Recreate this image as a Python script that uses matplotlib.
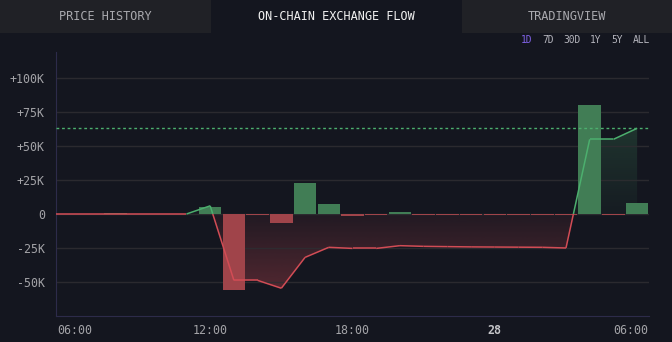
import numpy as np
import matplotlib.pyplot as plt
import matplotlib.transforms as mtransforms
from matplotlib.collections import LineCollection
from matplotlib.colors import to_rgb

# hourly net flow bars (hour of day, 24 = midnight of the 28th)
bar_hours = np.arange(6, 31)
bar_vals = [0.3, 0.3, 0.7, 0.3, 0.3, 0.3, 5.4, -55.6, -0.5, -6.5, 22.8, 7.5,
            -1.2, -0.4, 1.6, -1.0, -0.4, -0.4, -0.4, -0.4, -0.4, -1.1, 80.0, -0.5, 8.0]

# cumulative flow line
line_hours = [5.5, 6, 7, 8, 9, 10, 11, 12, 13, 14, 15, 16, 17, 18, 19, 20, 21, 22,
              23, 24, 25, 26, 27, 28, 29, 30]
line_vals = [0, 0, 0, 0, 0, 0, 0, 6.0, -48.8, -48.8, -54.6, -31.9, -24.5, -25.3,
             -25.3, -23.3, -23.8, -24.0, -24.2, -24.3, -24.4, -24.5, -25.0, 54.9, 54.9, 63.0]
current = 63.0

yticks = [-50, -25, 0, 25, 50, 75, 100]
ylabels = ['-50K', '-25K', '0', '+25K', '+50K', '+75K', '+100K']
xticks = [6, 12, 18, 24, 30]
xlabels = ['06:00', '12:00', '18:00', '28', '06:00']

tabs = ['PRICE HISTORY', 'ON-CHAIN EXCHANGE FLOW', 'TRADINGVIEW']
ranges = ['1D', '7D', '30D', '1Y', '5Y', 'ALL']

BG = '#14161f'
GREEN = '#4caf6e'
RED = '#d24c55'
MONO = 'DejaVu Sans Mono'

fig = plt.figure(figsize=(6.72, 3.42), dpi=100, facecolor=BG)
W, H = 672, 342

# tab strip
tab_edges = [0, 211, 462, 672]
for i, name in enumerate(tabs):
    active = i == 1
    fig.patches.append(plt.Rectangle((tab_edges[i] / W, 1 - 33 / H), (tab_edges[i + 1] - tab_edges[i]) / W,
                                     33 / H, transform=fig.transFigure,
                                     facecolor=BG if active else '#202126', edgecolor='none'))
    fig.text((tab_edges[i] + tab_edges[i + 1]) / 2 / W, 1 - 16.5 / H, name, ha='center', va='center',
             family=MONO, fontsize=8.6, color='#f0f0f0' if active else '#a9a9ae')

# range buttons
rx = [527, 548, 572, 596, 617, 641]
for x, r in zip(rx, ranges):
    fig.text(x / W, 1 - 40 / H, r, ha='center', va='center', family=MONO, fontsize=6.9,
             color='#8062e6' if r == '1D' else '#b4b4bc')

ax = fig.add_axes([56 / W, 26 / H, (649 - 56) / W, (316 - 52) / H])
ax.set_facecolor(BG)
ax.set_xlim(5.5, 30.5)
ax.set_ylim(-75, 119.1)

for t in yticks:
    ax.axhline(t, color='#2e2d31', lw=1, zorder=1.5, alpha=0.9)

# crossings of zero inserted so colours and fills split cleanly
xs, ys = [line_hours[0]], [line_vals[0]]
for i in range(1, len(line_hours)):
    x0, y0, x1, y1 = line_hours[i - 1], line_vals[i - 1], line_hours[i], line_vals[i]
    if y0 * y1 < 0:
        xc = x0 + (x1 - x0) * (0 - y0) / (y1 - y0)
        xs.append(xc)
        ys.append(0)
    xs.append(x1)
    ys.append(y1)
xs = np.array(xs)
ys = np.array(ys)


def grad_fill(yy, color, lo, hi, a_lo, a_hi):
    poly = ax.fill_between(xs, yy, 0, facecolor='none', edgecolor='none')
    rgba = np.zeros((256, 1, 4))
    rgba[:, 0, :3] = to_rgb(color)
    rgba[:, 0, 3] = np.linspace(a_lo, a_hi, 256)
    im = ax.imshow(rgba, extent=[xs[0], xs[-1], lo, hi], origin='lower', aspect='auto', zorder=1)
    im.set_clip_path(poly.get_paths()[0], transform=ax.transData)


grad_fill(np.clip(ys, None, 0), '#d24c55', min(ys), 0, 0.32, 0.07)
grad_fill(np.clip(ys, 0, None), '#4caf6e', 0, max(ys), 0.04, 0.2)

colors = ['#417d55' if v > 0 else '#a0444a' for v in bar_vals]
ax.bar(bar_hours, bar_vals, width=0.95, color=colors, zorder=2)

ax.axhline(current, color=GREEN, lw=1, ls=(0, (2, 2)), zorder=3)

segs = [[(xs[i], ys[i]), (xs[i + 1], ys[i + 1])] for i in range(len(xs) - 1)]
seg_col = [GREEN if (ys[i] + ys[i + 1]) > 0 else RED for i in range(len(xs) - 1)]
ax.add_collection(LineCollection(segs, colors=seg_col, linewidths=1.1, zorder=4))
ax.set_xlim(5.5, 30.5)
ax.set_ylim(-75, 119.1)

for s in ['top', 'right']:
    ax.spines[s].set_visible(False)
for s in ['left', 'bottom']:
    ax.spines[s].set_color('#2d2b4a')

ax.set_yticks(yticks)
ax.set_yticklabels(ylabels, family=MONO, fontsize=8.4, color='#a4a4a8')
ax.tick_params(length=0, axis='y', pad=8)

# time labels, the outer two pushed inside the plot edges
ax.set_xticks([])
trans = mtransforms.blended_transform_factory(ax.transData, ax.transAxes)
for i, (t, lab) in enumerate(zip(xticks, xlabels)):
    ha = 'center'
    if i == 0:
        t, ha = 5.55, 'left'
    elif i == len(xticks) - 1:
        t, ha = 30.45, 'right'
    bold = lab == '28'
    ax.text(t, -14 / 264, lab, transform=trans, ha=ha, va='center', family=MONO, fontsize=8.4,
            fontweight='bold' if bold else 'normal', color='#c4c4c8' if bold else '#a4a4a8')

fig.savefig('out.png', dpi=100, facecolor=BG)
